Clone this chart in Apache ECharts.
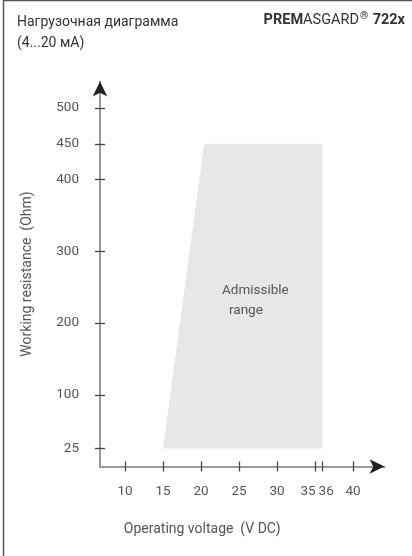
<!DOCTYPE html>
<html>
<head>
<meta charset="utf-8">
<title>Нагрузочная диаграмма</title>
<script src="https://cdn.jsdelivr.net/npm/echarts@6/dist/echarts.min.js"></script>
<style>
  html, body { margin: 0; padding: 0; background: #fff; }
  #chart { width: 412px; height: 556px; }
</style>
</head>
<body>
<div id="chart"></div>
<script>
// ticks on both axes
const voltageTicks = [10, 15, 20, 25, 30, 35, 36, 40];
const resistanceTicks = [25, 100, 200, 300, 400, 450, 500];

// admissible range outline (V DC, Ohm)
const areaVoltage = [15, 20.4, 36, 36];
const areaResistance = [25, 450, 450, 25];

const FONT = 'Roboto';
const xMin = 6.71, xMax = 44.14;
const yMin = 0, yMax = 537;

const chart = echarts.init(document.getElementById('chart'));

const tickStyle = { color: '#444', width: 1.3 };

const option = {
  animation: false,
  textStyle: { fontFamily: FONT },
  title: [
    {
      text: 'Нагрузочная диаграмма\n(4...20 мА)',
      left: 12,
      top: 7,
      textStyle: { fontFamily: FONT, fontSize: 14, fontWeight: 'normal', color: '#333', lineHeight: 21 }
    },
    {
      text: '{b|PREM}{n|ASGARD}{s|®} {b|722x}',
      right: 2,
      top: 6,
      textStyle: {
        rich: {
          b: { fontFamily: FONT, fontSize: 14.5, fontWeight: 'bold', color: '#333' },
          n: { fontFamily: FONT, fontSize: 14.5, fontWeight: 'normal', color: '#333' },
          s: { fontFamily: FONT, fontSize: 10.5, fontWeight: 'bold', color: '#333', padding: [0, 0, 7, 1] }
        }
      }
    }
  ],
  grid: { left: 100, right: 27.5, top: 81.5, bottom: 89.5 },
  xAxis: [
    {
      type: 'value',
      position: 'bottom',
      min: xMin,
      max: xMax,
      splitLine: { show: false },
      axisLine: { onZero: false, lineStyle: { color: '#999', width: 2 } },
      axisTick: { customValues: voltageTicks, length: 5, lineStyle: tickStyle },
      axisLabel: {
        customValues: voltageTicks,
        margin: 18,
        fontFamily: FONT,
        fontSize: 13.5,
        color: '#555',
        formatter: v => v === 35 ? '{l|35}' : v === 36 ? '{r|36}' : String(v),
        rich: {
          l: { fontFamily: FONT, fontSize: 13.5, color: '#555', padding: [0, 14, 0, 0] },
          r: { fontFamily: FONT, fontSize: 13.5, color: '#555', padding: [0, 0, 0, 7] }
        }
      },
      name: 'Operating voltage  (V DC)',
      nameLocation: 'middle',
      nameGap: 56,
      nameTextStyle: { fontFamily: FONT, fontSize: 14, color: '#555', padding: [0, 80, 0, 0] }
    },
    {
      type: 'value',
      position: 'bottom',
      min: xMin,
      max: xMax,
      splitLine: { show: false },
      axisLine: {
        onZero: false,
        symbol: ['none', 'arrow'],
        symbolSize: [11, 15],
        lineStyle: { color: '#222', width: 0 }
      },
      axisTick: { customValues: voltageTicks, inside: true, length: 5, lineStyle: tickStyle },
      axisLabel: { show: false }
    }
  ],
  yAxis: [
    {
      type: 'value',
      position: 'left',
      min: yMin,
      max: yMax,
      splitLine: { show: false },
      axisLine: { onZero: false, lineStyle: { color: '#999', width: 2 } },
      axisTick: { customValues: resistanceTicks, length: 5, lineStyle: tickStyle },
      axisLabel: {
        customValues: resistanceTicks,
        margin: 21,
        fontFamily: FONT,
        fontSize: 13.5,
        color: '#555'
      },
      name: 'Working resistance  (Ohm)',
      nameLocation: 'middle',
      nameGap: 66,
      nameTextStyle: { fontFamily: FONT, fontSize: 14, color: '#555' }
    },
    {
      type: 'value',
      position: 'left',
      min: yMin,
      max: yMax,
      splitLine: { show: false },
      axisLine: {
        onZero: false,
        symbol: ['none', 'arrow'],
        symbolSize: [11, 15],
        lineStyle: { color: '#222', width: 0 }
      },
      axisTick: { customValues: resistanceTicks, inside: true, length: 5, lineStyle: tickStyle },
      axisLabel: { show: false }
    }
  ],
  graphic: [
    { type: 'line', shape: { x1: 3.5, y1: 0, x2: 3.5, y2: 556 }, style: { stroke: '#555', lineWidth: 1.5 } },
    { type: 'line', shape: { x1: 3.5, y1: 0.5, x2: 412, y2: 0.5 }, style: { stroke: '#555', lineWidth: 1.5 } },
    {
      type: 'text', left: 222, top: 284, z: 10,
      style: { text: 'Admissible', fontFamily: FONT, fontSize: 13.5, fill: '#555' }
    },
    {
      type: 'text', left: 229, top: 304, z: 10,
      style: { text: 'range', fontFamily: FONT, fontSize: 13.5, fill: '#555' }
    }
  ],
  series: [
    {
      type: 'custom',
      xAxisIndex: 0,
      yAxisIndex: 0,
      z: 1,
      data: areaVoltage.map((v, i) => [v, areaResistance[i]]),
      renderItem: (params, api) => {
        if (params.dataIndex !== 0) return null;
        const points = areaVoltage.map((v, i) => api.coord([v, areaResistance[i]]));
        return { type: 'polygon', shape: { points }, style: { fill: '#e6e7e8' } };
      }
    }
  ]
};

chart.setOption(option);
</script>
</body>
</html>
